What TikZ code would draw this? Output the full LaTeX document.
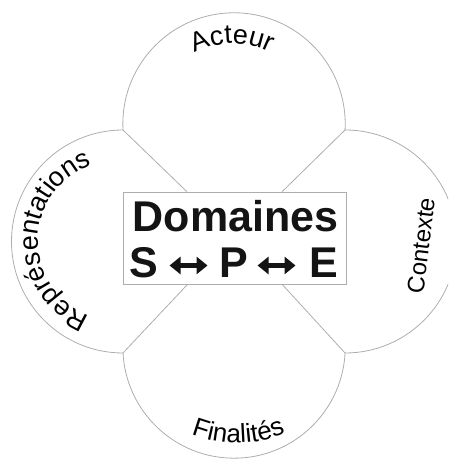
\documentclass[tikz,border=0pt]{standalone}
\usepackage{fontspec}
\setmainfont{Liberation Sans}
\usetikzlibrary{decorations.text,arrows.meta,calc}
\begin{document}
\begin{tikzpicture}[x=1pt,y=1pt,
  outl/.style={draw=black!32, line width=0.8pt},
  spe/.style={draw=black!92, line width=5pt, {Triangle[length=11pt,width=17pt]}-{Triangle[length=11pt,width=17pt]}},
  big/.style={font=\fontsize{43}{43}\selectfont\bfseries, inner sep=0pt, anchor=base, text=black!92},
  arctext/.style={decorate, decoration={text along path, text align=center, text={#1}}},
]
\useasboundingbox (0,0) rectangle (448,462);
\clip (0,0) rectangle (448,462);
% cusps
\coordinate (tl) at (123,332);
\coordinate (tr) at (345,332);
\coordinate (br) at (345,109);
\coordinate (bl) at (123,109);
% four petals
\draw[outl] (tl) arc[start angle=183.1, end angle=-3.1, radius=111.2]
  arc[start angle=90, end angle=-90, radius=111.5]
  arc[start angle=-3.1, end angle=-176.9, radius=111.2]
  arc[start angle=-90, end angle=-270, radius=111.5] -- cycle;
% central box
\node[draw=black!32, line width=0.8pt, fill=white, minimum width=223pt, minimum height=92pt, inner sep=0pt] (box) at (234.5,224) {};
% diagonals from cusps to the box
\draw[outl] (tl) -- ($(box.north west)!0.287!(box.north east)$);
\draw[outl] (tr) -- ($(box.north west)!0.713!(box.north east)$);
\draw[outl] (bl) -- ($(box.south west)!0.29!(box.south east)$);
\draw[outl] (br) -- ($(box.south west)!0.713!(box.south east)$);
% box texts
\node[big] (dom) at (235.5,230) {Domaines};
\node[big] (S) at (144,184) {S};
\node[big] (P) at (234,184) {P};
\node[big] (E) at (324,184) {E};
\draw[spe] ($(S.base east)+(11,12.5)$) -- ($(S.base east)+(49,12.5)$);
\draw[spe] ($(P.base east)+(9,12.5)$) -- ($(P.base east)+(47,12.5)$);
% curved labels
\path[arctext={|\fontsize{27}{27}\selectfont|Acteur}]
  (233,337) ++(150.5:81.5) arc[start angle=150.5, end angle=30.5, radius=81.5];
\path[arctext={|\fontsize{27}{27}\selectfont|Représentations}]
  (118.5,221) ++(259:80.5) arc[start angle=259, end angle=99, radius=80.5];
\path[arctext={|\fontsize{26}{26}\selectfont|Finalités}]
  (237,144) ++(220.7:125) arc[start angle=220.7, end angle=320.7, radius=125];
\node[font=\fontsize{24}{24}\selectfont, rotate=83, inner sep=0pt] (ctx) at (421,216.5) {Contexte};
\end{tikzpicture}
\end{document}
